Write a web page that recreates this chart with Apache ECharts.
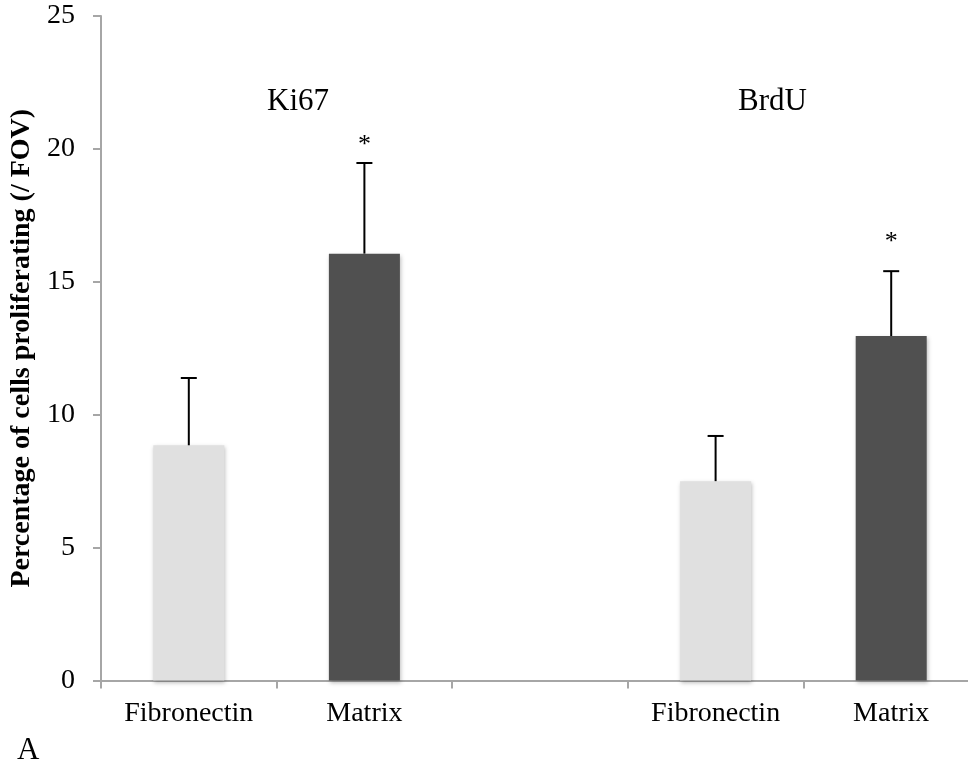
<!DOCTYPE html>
<html>
<head>
<meta charset="utf-8">
<script src="https://cdn.jsdelivr.net/npm/echarts@6/dist/echarts.min.js"></script>
<style>
html,body{margin:0;padding:0;background:#fff;}
#chart{width:968px;height:767px;}
</style>
</head>
<body>
<div id="chart"></div>
<script>
// ---- data ----
const categories = ['Fibronectin|Ki67', 'Matrix|Ki67', '', 'Fibronectin|BrdU', 'Matrix|BrdU'];
const values = [8.85, 16.06, null, 7.5, 12.96];
const errorTops = [11.38, 19.47, null, 9.2, 15.4];
const significance = ['', '*', '', '', '*'];
const significanceLevel = [null, 20.15, null, null, 16.5];
const groupLabels = ['Ki67', 'BrdU'];
const yTicks = [0, 5, 10, 15, 20, 25];
const panelLabel = 'A';

const barColors = ['#e0e0e0', '#505050', '#e0e0e0', '#e0e0e0', '#505050'];

const chart = echarts.init(document.getElementById('chart'));

const option = {
  backgroundColor: '#ffffff',
  animation: false,
  grid: { left: 101, right: -11, top: 16, bottom: 86.5, containLabel: false, outerBoundsMode: 'none' },
  xAxis: {
    type: 'category',
    data: categories,
    boundaryGap: true,
    axisLine: { show: true, lineStyle: { color: '#a6a6a6', width: 2 } },
    axisTick: { show: true, length: 8, inside: false, lineStyle: { color: '#a6a6a6', width: 2 } },
    axisLabel: {
      formatter: v => v.split('|')[0],
      fontFamily: 'Liberation Serif',
      fontSize: 28,
      color: '#000',
      margin: 19,
      interval: 0
    },
    splitLine: { show: false }
  },
  yAxis: {
    type: 'value',
    min: yTicks[0],
    max: yTicks[yTicks.length - 1],
    interval: 5,
    name: 'Percentage of cells proliferating (/ FOV)',
    nameLocation: 'middle',
    nameGap: 64,
    nameRotate: 90,
    nameTextStyle: { fontFamily: 'Liberation Serif', fontWeight: 'bold', fontSize: 28, color: '#000' },
    axisLine: { show: true, lineStyle: { color: '#a6a6a6', width: 2 } },
    axisTick: { show: true, length: 8, lineStyle: { color: '#a6a6a6', width: 2 } },
    axisLabel: { fontFamily: 'Liberation Serif', fontSize: 28, color: '#000', margin: 26 },
    splitLine: { show: false }
  },
  series: [
    {
      type: 'bar',
      barWidth: 71,
      data: values.map((v, i) => ({
        value: v,
        itemStyle: {
          color: barColors[i],
          shadowColor: 'rgba(0,0,0,0.25)',
          shadowBlur: 4,
          shadowOffsetX: 1,
          shadowOffsetY: 2
        }
      })),
      z: 2
    },
    {
      type: 'custom',
      z: 3,
      data: values.map((v, i) => [i, v, errorTops[i]]),
      renderItem: function (params, api) {
        const v = api.value(1);
        const top = api.value(2);
        if (v == null || isNaN(v) || top == null || isNaN(top)) return null;
        const p0 = api.coord([api.value(0), v]);
        const p1 = api.coord([api.value(0), top]);
        const half = 8;
        return {
          type: 'group',
          children: [
            { type: 'line', shape: { x1: p0[0], y1: p0[1], x2: p1[0], y2: p1[1] }, style: { stroke: '#000', lineWidth: 2 } },
            { type: 'line', shape: { x1: p1[0] - half, y1: p1[1], x2: p1[0] + half, y2: p1[1] }, style: { stroke: '#000', lineWidth: 2 } }
          ]
        };
      }
    },
    {
      type: 'custom',
      z: 4,
      data: significanceLevel.map((v, i) => [i, v, i]),
      renderItem: function (params, api) {
        const lvl = api.value(1);
        const idx = api.value(2);
        if (lvl == null || isNaN(lvl) || !significance[idx]) return null;
        const p = api.coord([api.value(0), lvl]);
        return {
          type: 'text',
          x: p[0],
          y: p[1],
          style: {
            text: significance[idx],
            font: '26px "Liberation Serif"',
            fill: '#000',
            align: 'center',
            verticalAlign: 'middle'
          }
        };
      }
    }
  ],
  graphic: [
    { type: 'text', left: 267, top: 86, style: { text: groupLabels[0], font: '31px "Liberation Serif"', fill: '#000' } },
    { type: 'text', left: 738, top: 86, style: { text: groupLabels[1], font: '31px "Liberation Serif"', fill: '#000' } },
    { type: 'text', left: 17, top: 735, style: { text: panelLabel, font: '31px "Liberation Serif"', fill: '#000' } }
  ]
};

chart.setOption(option);
</script>
</body>
</html>
